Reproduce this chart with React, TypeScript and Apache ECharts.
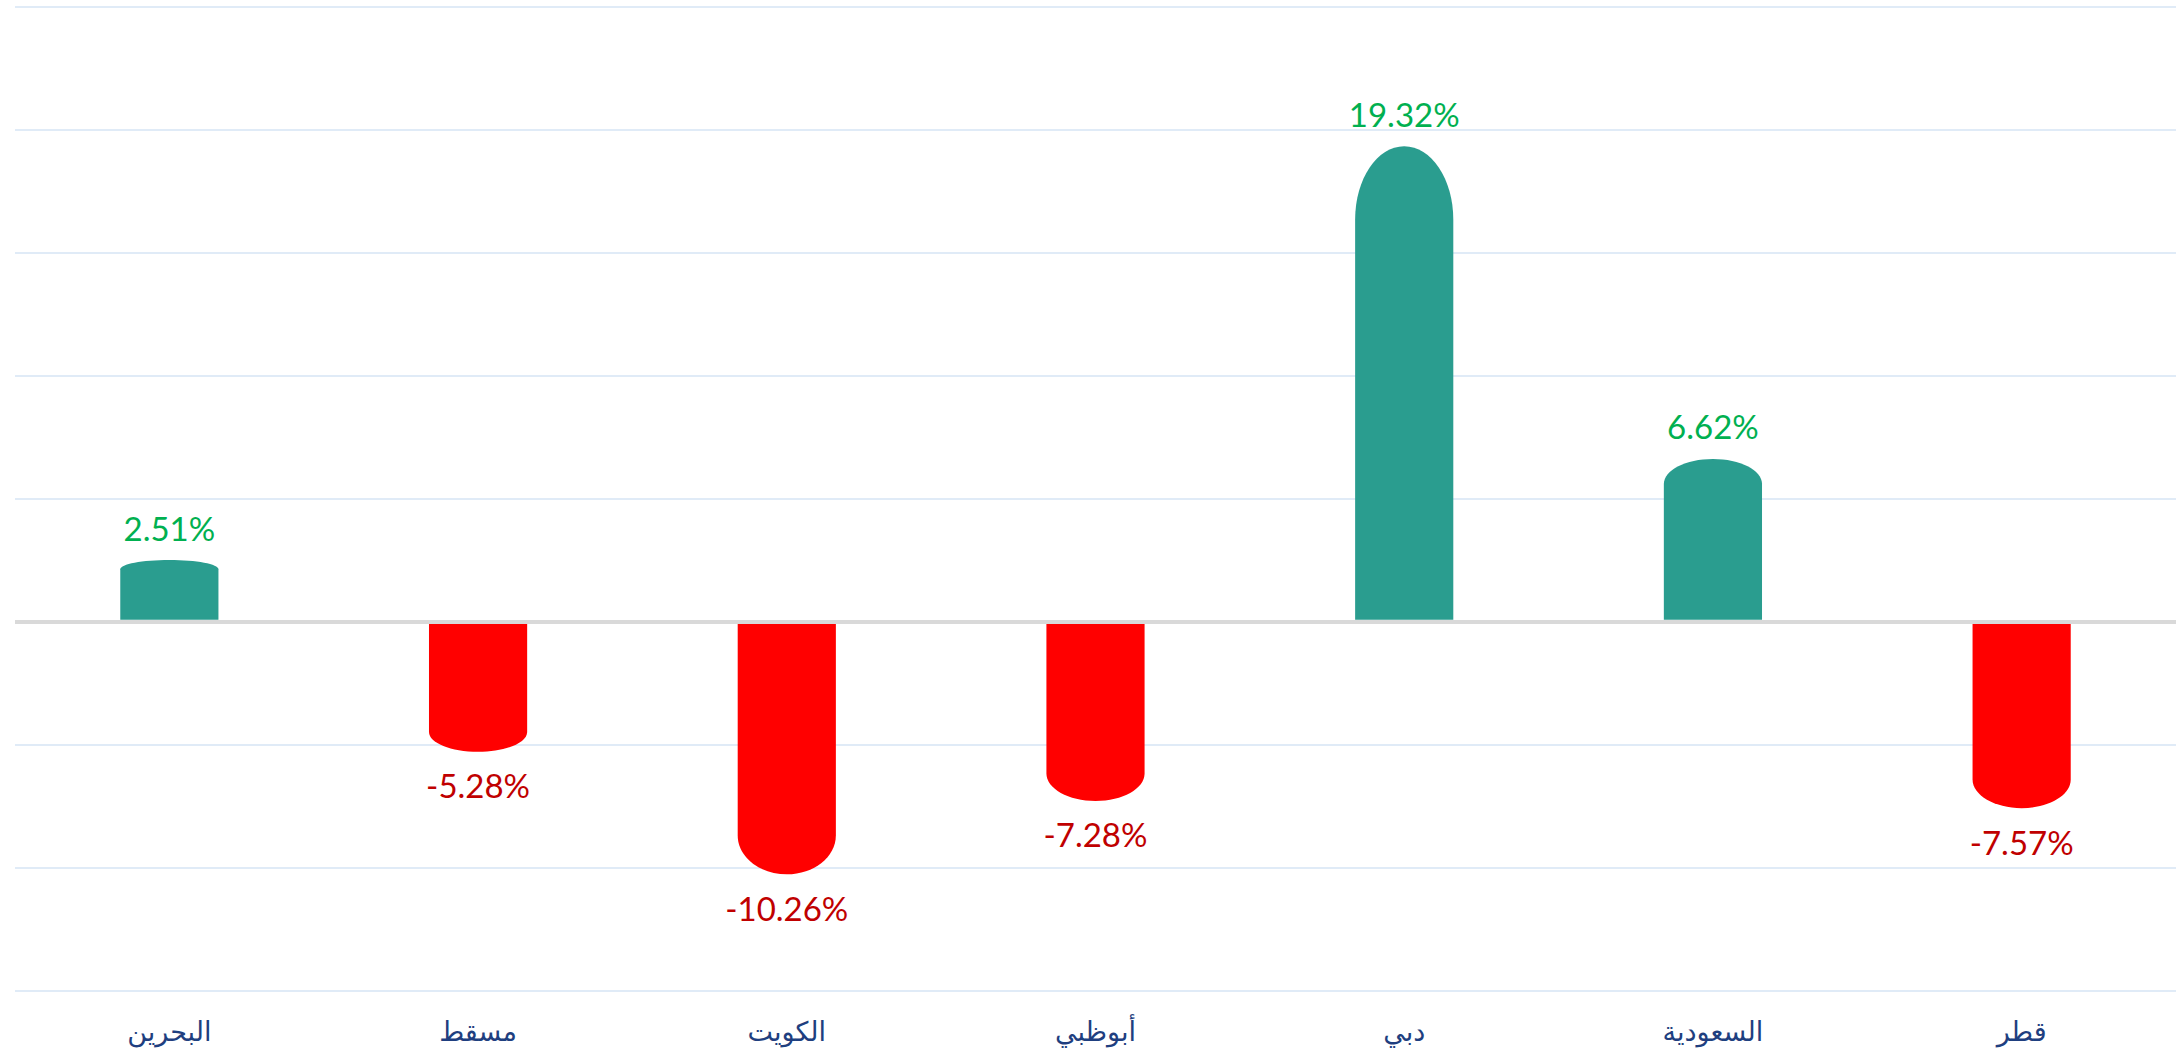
import React, { useEffect, useRef } from "react";
import * as echarts from "echarts";

const categories = ["البحرين", "مسقط", "الكويت", "أبوظبي", "دبي", "السعودية", "قطر"];
const values = [2.51, -5.28, -10.26, -7.28, 19.32, 6.62, -7.57];
const yMin = -15;
const yMax = 25;
const yInterval = 5;

const POS_BAR = "#2A9D8F";
const NEG_BAR = "#FF0000";
const POS_LABEL = "#00B050";
const NEG_LABEL = "#C00000";

export default function App() {
  const ref = useRef<HTMLDivElement>(null);
  useEffect(() => {
    if (!ref.current) return;
    const chart = echarts.init(ref.current, null, { renderer: "svg" });
    const k = 0.5523;
    const option: any = {
      animation: false,
      backgroundColor: "#ffffff",
      grid: { left: 15, right: 0, top: 6.5, bottom: 59, containLabel: false },
      xAxis: {
        type: "category",
        data: categories,
        boundaryGap: true,
        axisLine: { show: false, onZero: false },
        axisTick: { show: false },
        axisLabel: {
          color: "#1F3F80",
          fontSize: 27,
          fontFamily: "'DejaVu Sans', sans-serif",
          margin: 27,
        },
        splitLine: { show: false },
      },
      yAxis: {
        type: "value",
        min: yMin,
        max: yMax,
        interval: yInterval,
        axisLabel: { show: false },
        axisLine: { show: false },
        axisTick: { show: false },
        splitLine: { show: true, lineStyle: { color: "#D6E4F5", width: 1.5 } },
      },
      series: [
        {
          type: "custom",
          data: values.map((v, i) => [i, v]),
          encode: { x: 0, y: 1 },
          renderItem: (params: any, api: any) => {
            const idx = api.value(0);
            const v = api.value(1);
            const base = api.coord([idx, 0]);
            const end = api.coord([idx, v]);
            const bw = api.size([1, 0])[0] * 0.318;
            const cx = base[0];
            const rx = bw / 2;
            const x0 = cx - rx;
            const x1 = cx + rx;
            const s = v >= 0 ? -1 : 1;
            const y0 = base[1] + s * 2;
            const yEnd = end[1];
            const len = Math.abs(yEnd - y0);
            const cap = len * 0.155;
            const yc = yEnd - s * cap;
            const d =
              `M ${x0} ${y0} L ${x0} ${yc} ` +
              `C ${x0} ${yc + s * cap * k} ${cx - rx * k} ${yEnd} ${cx} ${yEnd} ` +
              `C ${cx + rx * k} ${yEnd} ${x1} ${yc + s * cap * k} ${x1} ${yc} ` +
              `L ${x1} ${y0} Z`;
            const label = v.toFixed(2) + "%";
            return {
              type: "group",
              children: [
                {
                  type: "path",
                  shape: { pathData: d },
                  style: { fill: v >= 0 ? POS_BAR : NEG_BAR },
                },
                {
                  type: "text",
                  x: cx,
                  y: v >= 0 ? yEnd - 16 : yEnd + 17,
                  style: {
                    text: label,
                    fill: v >= 0 ? POS_LABEL : NEG_LABEL,
                    fontSize: 33,
                    fontFamily: "Lato, 'Liberation Sans', sans-serif",
                    align: "center",
                    verticalAlign: v >= 0 ? "bottom" : "top",
                  },
                },
              ],
            };
          },
          markLine: {
            silent: true,
            symbol: ["none", "none"],
            label: { show: false },
            lineStyle: { color: "#D9D9D9", width: 4, type: "solid" },
            data: [{ yAxis: 0 }],
          },
        },
      ],
    };
    chart.setOption(option);
    return () => chart.dispose();
  }, []);
  return (
    <div
      ref={ref}
      style={{ position: "fixed", left: 0, top: 0, width: 2176, height: 1050, background: "#fff" }}
    />
  );
}
